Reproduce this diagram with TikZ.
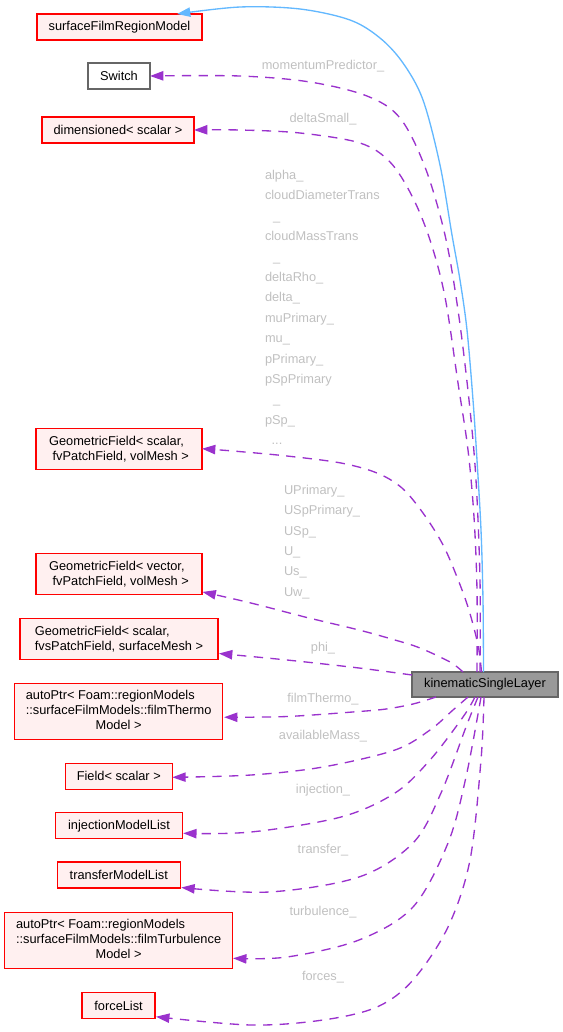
\documentclass[tikz,border=0pt]{standalone}
\usepackage{fontspec}
\setmainfont{Liberation Sans}
\usetikzlibrary{arrows.meta,calc}
\definecolor{boxred}{HTML}{FF0000}
\definecolor{boxfill}{HTML}{FFF0F0}
\definecolor{boxgray}{HTML}{666666}
\definecolor{kslfill}{HTML}{999999}
\definecolor{edgepurple}{HTML}{9A32CD}
\definecolor{edgeblue}{HTML}{63B8FF}
\definecolor{lblgray}{HTML}{C0C0C0}
\begin{document}
\begin{tikzpicture}[x=0.75pt,y=-0.75pt,
  every node/.style={font=\fontsize{9.6}{11.25}\selectfont, inner sep=0pt, outer sep=0pt},
  cls/.style 2 args={draw=boxred, fill=boxfill, line width=1pt, minimum width=#1*0.75pt, minimum height=#2*0.75pt, align=left},
  plainbox/.style 2 args={draw=boxgray, fill=white, line width=1pt, minimum width=#1*0.75pt, minimum height=#2*0.75pt},
  focusbox/.style 2 args={draw=boxgray, fill=kslfill, line width=1pt, minimum width=#1*0.75pt, minimum height=#2*0.75pt},
  usage/.style={draw=edgepurple, line width=1pt, dash pattern=on 7pt off 5.5pt, -{Triangle[length=10pt,width=7pt,fill=edgepurple]}},
  inherit/.style={draw=edgeblue, line width=1pt, -{Triangle[length=10pt,width=7pt,fill=edgeblue]}},
  elabel/.style={text=lblgray},
]
\useasboundingbox (0,0) rectangle (563,1032);

% nodes
\node[cls={165}{26}] (sfrm) at (119.5,27) {surfaceFilmRegionModel};
\node[plainbox={62}{26}] (sw) at (119,76) {Switch};
\node[cls={152}{26}] (dim) at (118,130) {dimensioned< scalar >};
\node[cls={166}{41}] (gsv) at (119,448.7) {GeometricField< scalar,\\\ fvPatchField, volMesh >};
\node[cls={166}{41}] (gvv) at (119,574) {GeometricField< vector,\\\ fvPatchField, volMesh >};
\node[cls={198}{41}] (gsf) at (119,639) {GeometricField< scalar,\\fvsPatchField, surfaceMesh >};
\node[focusbox={146}{25}] (ksl) at (485,684.5) {kinematicSingleLayer};
\node[cls={208}{56}] (ftm) at (118.6,711.2) {\begin{tabular}{@{}l@{}}autoPtr< Foam::regionModels\\::surfaceFilmModels::filmThermo\\\multicolumn{1}{@{}c@{}}{Model >}\end{tabular}};
\node[cls={107}{26}] (fld) at (118.8,776.3) {Field< scalar >};
\node[cls={127}{26}] (inj) at (119,825.7) {injectionModelList};
\node[cls={123}{26}] (trn) at (118.8,875) {transferModelList};
\node[cls={228}{56}] (ftb) at (118.6,940.3) {\begin{tabular}{@{}l@{}}autoPtr< Foam::regionModels\\::surfaceFilmModels::filmTurbulence\\\multicolumn{1}{@{}c@{}}{Model >}\end{tabular}};
\node[cls={73}{26}] (frc) at (118.6,1005.7) {forceList};

% edge labels
\node[elabel, anchor=base] (lmp) at (323,69.5) {momentumPredictor\_};
\node[elabel, anchor=base] (lds) at (323,122.5) {deltaSmall\_};
\foreach \lbltext [count=\i] in {alpha\_,cloudDiameterTrans,\hspace*{6pt}\_,cloudMassTrans,\hspace*{6pt}\_,deltaRho\_,delta\_,muPrimary\_,mu\_,pPrimary\_,pSpPrimary,\hspace*{6pt}\_,pSp\_}
  \node[elabel, anchor=base west] (la\i) at (265,{179.5+20.4*(\i-1)}) {\lbltext};
\node[elabel, anchor=base west] (la14) at (265,444.7) {\hspace*{5pt}...};
\foreach \lbltext [count=\i] in {UPrimary\_,USpPrimary\_,USp\_,U\_,Us\_,Uw\_}
  \node[elabel, anchor=base west] (lu\i) at (284,{494.5+20.3*(\i-1)}) {\lbltext};
\node[elabel, anchor=base] (lphi) at (323,651.2) {phi\_};
\node[elabel, anchor=base] (lft) at (323,702.8) {filmThermo\_};
\node[elabel, anchor=base] (lam) at (323,739.5) {availableMass\_};
\node[elabel, anchor=base] (lin) at (323,793.8) {injection\_};
\node[elabel, anchor=base] (ltr) at (323,853.8) {transfer\_};
\node[elabel, anchor=base] (ltu) at (323,915.2) {turbulence\_};
\node[elabel, anchor=base] (lfo) at (323,980.5) {forces\_};

% connector end points
\coordinate (kB) at ($(ksl.north)+(-1.5,0)$);
\coordinate (kS) at ($(ksl.north)+(-5,0)$);
\coordinate (kD) at ($(ksl.north)+(-8,0)$);
\coordinate (kA) at ($(ksl.north)+(-3.5,0)$);
\coordinate (kV) at ($(ksl.north)+(-22,0)$);
\coordinate (kP) at ($(ksl.north west)+(0,3)$);
\coordinate (kT) at ($(ksl.south west)+(24,0)$);
\coordinate (kM) at ($(ksl.south west)+(56,0)$);
\coordinate (kI) at ($(ksl.south west)+(63,0)$);
\coordinate (kR) at ($(ksl.south west)+(66,0)$);
\coordinate (kU) at ($(ksl.south west)+(69,0)$);
\coordinate (kF) at ($(ksl.south west)+(72,0)$);
\coordinate (tB) at ($(sfrm.north)+(57.5,0)$);
\coordinate (tV) at ($(gvv.south east)+(0.5,-2.6)$);
\coordinate (tP) at ($(gsf.south east)+(1,-6)$);
\coordinate (tT) at ($(ftm.east)+(1.5,6)$);
\coordinate (tM) at ($(fld.east)+(0,1)$);
\coordinate (tI) at ($(inj.east)+(0.7,7.6)$);
\coordinate (tR) at ($(trn.south east)+(1,-0.5)$);
\coordinate (tU) at ($(ftb.east)+(0.5,18)$);
\coordinate (tF) at ($(frc.east)+(1,11)$);

% connectors
\draw[inherit] plot[smooth,tension=0.55] coordinates {(kB) (483,600) (481,530) (477,460) (473,400) (467,330) (460,280) (452,235) (440,165) (423,100) (403,63) (380,38) (350,20) (300,9) (240,7) (tB)};
\draw[usage] plot[smooth,tension=0.55] coordinates {(kS) (480,580) (476,480) (469,400) (458,310) (445,235) (425,167) (400,118) (367,96) (310,82) (240,76) (sw.east)};
\draw[usage] plot[smooth,tension=0.55] coordinates {(kD) (477,590) (474,517) (468,450) (458,383) (445,297) (430,240) (412,196) (390,162) (360,143) (300,133) (240,130) (dim.east)};
\draw[usage] plot[smooth,tension=0.55] coordinates {(kA) (478,645) (468,607) (455,572) (442,543) (423,513) (402,488) (377,473) (341,463) (287,456) (233,451) (gsv.east)};
\draw[usage] plot[smooth,tension=0.55] coordinates {(kV) (450,662) (420,648) (395,640) (359,630) (305,617) (251,603) (tV)};
\draw[usage] plot[smooth,tension=0.55] coordinates {(kP) (359,668) (287,660) (tP)};
\draw[usage] plot[smooth,tension=0.55] coordinates {(kT) (413,704) (386,709) (359,711.5) (287,716.5) (tT)};
\draw[usage] plot[smooth,tension=0.55] coordinates {(kM) (453,710) (430,730) (395,750) (323,767) (251,775) (tM)};
\draw[usage] plot[smooth,tension=0.55] coordinates {(kI) (463,717) (430,760) (395,793) (341,817) (251,832) (tI)};
\draw[usage] plot[smooth,tension=0.55] coordinates {(kR) (466,727) (441,793) (413,843) (359,877) (269,892) (tR)};
\draw[usage] plot[smooth,tension=0.55] coordinates {(kU) (466,777) (448,843) (413,907) (359,940) (287,957) (tU)};
\draw[usage] plot[smooth,tension=0.55] coordinates {(kF) (481,760) (470,860) (448,927) (413,980) (377,1007) (323,1020) (251,1025) (tF)};
\end{tikzpicture}
\end{document}
